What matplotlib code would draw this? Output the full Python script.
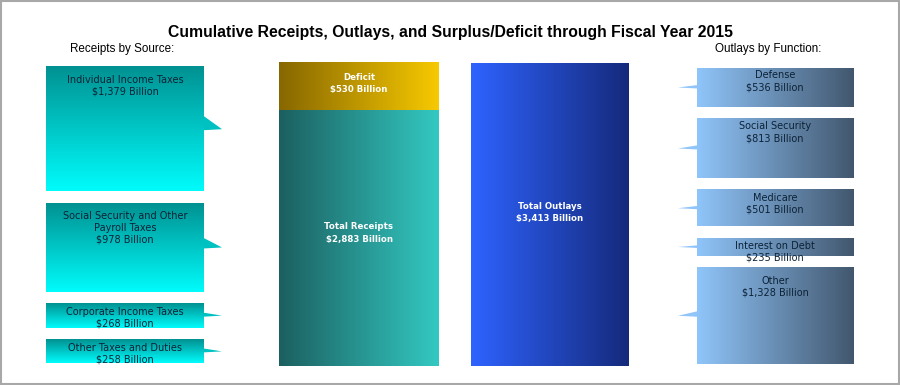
import numpy as np
import matplotlib
matplotlib.use("Agg")
import matplotlib.pyplot as plt
from matplotlib.patches import Polygon, Rectangle
from matplotlib.colors import to_rgb

# data (billions of dollars)
receipt_sources = ["Individual Income Taxes", "Social Security and Other\nPayroll Taxes",
                   "Corporate Income Taxes", "Other Taxes and Duties"]
receipt_values = [1379, 978, 268, 258]
outlay_functions = ["Defense", "Social Security", "Medicare", "Interest on Debt", "Other"]
outlay_values = [536, 813, 501, 235, 1328]
total_receipts = 2883
deficit = 530
total_outlays = 3413


def fmt(v):
    return "${:,} Billion".format(v)


def gradient(ax, x0, x1, y0, y1, c_a, c_b, direction="h"):
    # c_a -> c_b, left->right ("h") or top->bottom ("v")
    a = np.array(to_rgb(c_a))
    b = np.array(to_rgb(c_b))
    t = np.linspace(0, 1, 256)[:, None]
    cols = a + (b - a) * t
    if direction == "h":
        img = cols[None, :, :]
    else:
        img = cols[:, None, :]
    ax.imshow(img, extent=(x0, x1, y1, y0), aspect="auto",
              interpolation="bilinear", zorder=2)


def mix(c_a, c_b, t):
    a = np.array(to_rgb(c_a))
    b = np.array(to_rgb(c_b))
    return tuple(a + (b - a) * t)


fig = plt.figure(figsize=(9, 3.85), dpi=100)
ax = fig.add_axes([0, 0, 1, 1])
ax.set_xlim(0, 900)
ax.set_ylim(385, 0)
ax.axis("off")

ax.add_patch(Rectangle((0.7, 0.7), 898.3, 383.3, fill=False, ec="#a8a8a8", lw=1.5, zorder=5))

ax.text(450, 33, "Cumulative Receipts, Outlays, and Surplus/Deficit through Fiscal Year 2015",
        ha="center", va="center", fontsize=11.3, fontweight="bold", family="Liberation Sans")
ax.text(70, 49, "Receipts by Source:", ha="left", va="center", fontsize=8.4, family="Liberation Sans")
ax.text(715, 49, "Outlays by Function:", ha="left", va="center", fontsize=8.4, family="Liberation Sans")

top, bottom = 63, 366
txt = "#0c2236"

# middle bars
bar_scale = (bottom - top) / total_outlays
d_h = deficit * bar_scale
gradient(ax, 279, 439, top, top + d_h, "#876700", "#f7c900")
gradient(ax, 279, 439, top + d_h, bottom, "#1c5f60", "#33c9c2")
gradient(ax, 471, 629, top, bottom, "#2e63ff", "#152a7c")
mid_kw = dict(ha="center", va="center", color="white", fontsize=6.2, fontweight="bold",
              linespacing=1.45, zorder=4)
ax.text(359, top + d_h / 2 - 3, "Deficit\n" + fmt(deficit), **mid_kw)
ax.text(359, (top + d_h + bottom) / 2 - 5, "Total Receipts\n" + fmt(total_receipts), **mid_kw)
ax.text(550, (top + bottom) / 2 - 2, "Total Outlays\n" + fmt(total_outlays), **mid_kw)

gap = 12
span_top, span_bot = 67, 363
box_kw = dict(ha="center", va="top", color=txt, fontsize=7.0, linespacing=1.2, zorder=4)

# left stack: receipts by source
l_scale = (span_bot - span_top - gap * (len(receipt_values) - 1)) / sum(receipt_values)
y = span_top
for name, v in zip(receipt_sources, receipt_values):
    h = v * l_scale
    c_top, c_bot = "#009191", "#00fcfc"
    gradient(ax, 46, 204, y, y + h, c_top, c_bot, "v")
    c = y + h / 2
    tail = Polygon([(204, c - 0.1 * h - 0.5), (222, c), (204, c + 1)], closed=True,
                   fc=mix(c_top, c_bot, 0.45), ec="none", zorder=2)
    ax.add_patch(tail)
    off = 13 if h > 50 else 8
    ax.text(125, y + off - 5, name + "\n" + fmt(v), **box_kw)
    y += h + gap

# right stack: outlays by function
r_scale = (span_bot - span_top - gap * (len(outlay_values) - 1)) / sum(outlay_values)
y = span_top + 1
for name, v in zip(outlay_functions, outlay_values):
    h = v * r_scale
    c_l, c_r = "#90c5fa", "#42576e"
    gradient(ax, 697, 854, y, y + h, c_l, c_r)
    c = y + h / 2
    tail = Polygon([(697, c - 0.035 * h - 1), (678, c), (697, c + 1)], closed=True,
                   fc=c_l, ec="none", zorder=2)
    ax.add_patch(tail)
    off = 13 if h > 80 else 7.5
    ax.text(775, y + off - 5, name + "\n" + fmt(v), **box_kw)
    y += h + gap

fig.savefig("out.png", dpi=100)
